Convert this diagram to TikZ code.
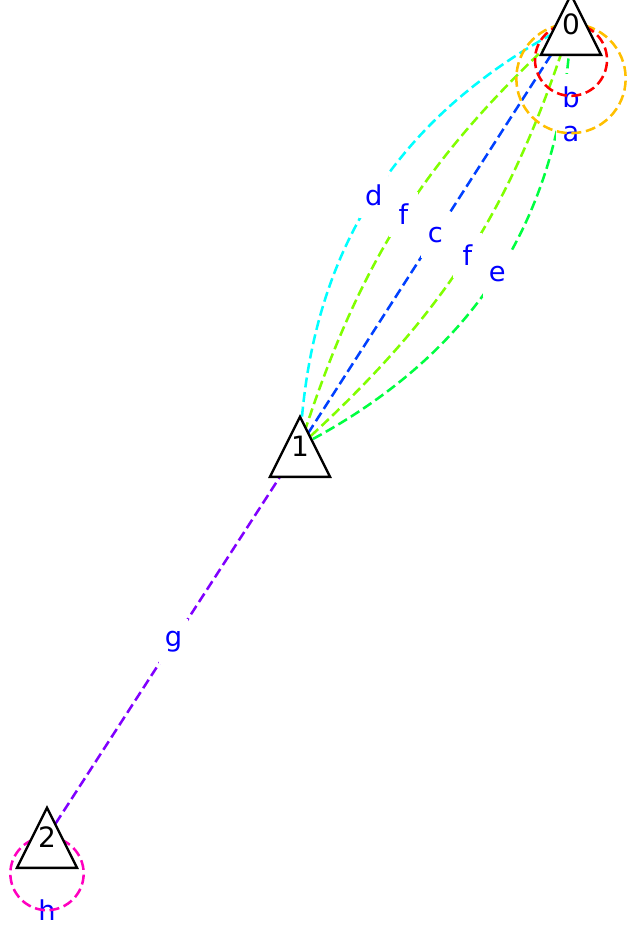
\documentclass[tikz,border=0pt]{standalone}
\usepackage{fontspec}
\setmainfont{DejaVu Sans}
\usepackage{tikz}
\usetikzlibrary{calc,shapes.geometric,backgrounds}
\definecolor{gred}{RGB}{255,0,0}
\definecolor{gorange}{RGB}{255,191,0}
\definecolor{glime}{RGB}{128,255,0}
\definecolor{ggreen}{RGB}{0,255,64}
\definecolor{gcyan}{RGB}{0,255,255}
\definecolor{gblue}{RGB}{0,64,255}
\definecolor{gpurple}{RGB}{128,0,255}
\definecolor{gmagenta}{RGB}{255,0,191}
\tikzset{
  gnode/.style={isosceles triangle, isosceles triangle stretches,
                shape border rotate=90, draw=black, fill=white,
                line width=1.8pt, minimum width=45pt, minimum height=45pt,
                inner sep=0pt, anchor=lower side},
  gtxt/.style={font=\fontsize{21}{25}\selectfont},
  gedge/.style={line width=1.9pt, dash pattern=on 7.5pt off 3.5pt},
  glbl/.style={fill=white, text=blue, inner sep=0pt, minimum width=22pt,
               minimum height=34pt, font=\fontsize{20.5}{24}\selectfont},
  gloop/.style={gedge},
}

\begin{document}
\begin{tikzpicture}[x=0.75pt,y=-0.75pt]
  \useasboundingbox (0,0) rectangle (626,926);

  % nodes (placed by the middle of the base)
  \node[gnode] (n0) at (571,56) {};
  \node[gnode] (n1) at (300,478) {};
  \node[gnode] (n2) at (47,869) {};
  \foreach \n in {0,1,2}
    \node[gtxt] (t\n) at ($(n\n.apex)!0.5!(n\n.lower side)$) {\n};

  \begin{pgfonlayer}{background}
    % edges 1 -> 0
    \foreach \b/\c/\l in {30/gcyan/d, 15/glime/f, 0/gblue/c, -15/glime/f, -30/ggreen/e}
      \draw[gedge, \c] (t1.center) to[bend left=\b] node[glbl] {\l} (t0.center);

    % edge 1 -> 2
    \draw[gedge, gpurple] (t1.center) -- (t2.center) node[glbl, midway] {g};

    % self loops
    \node[glbl] (la) at ($(t0.center)+(0,110)$) {a};
    \node[glbl] (lb) at ($(t0.center)+(0,73)$) {b};
    \node[glbl] (lh) at ($(t2.center)+(0,73)$) {h};
    \draw[gloop, gorange] (t0.center) arc[start angle=90, delta angle=-360, radius=41pt];
    \draw[gloop, gred] (t0.center) arc[start angle=90, delta angle=-360, radius=27pt];
    \draw[gloop, gmagenta] (t2.center) arc[start angle=90, delta angle=-360, radius=27.5pt];
  \end{pgfonlayer}

\end{tikzpicture}
\end{document}
